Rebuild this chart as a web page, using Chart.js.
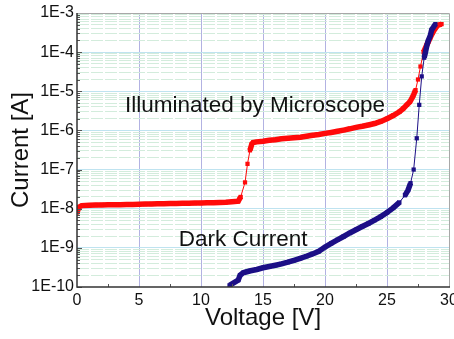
<!DOCTYPE html>
<html>
<head>
<meta charset="utf-8">
<script src="https://cdn.jsdelivr.net/npm/chart.js@4"></script>
<style>
  html, body { margin: 0; padding: 0; background: #fff; }
  #wrap { width: 454px; height: 339px; }
</style>
</head>
<body>
<div id="wrap"><canvas id="iv" width="454" height="339"></canvas></div>
<script>
// I-V curves
let illumV = [0, 0.15, 0.4, 1, 1.5, 2, 2.5, 3, 3.5, 4, 4.5, 5, 5.5, 6, 6.5, 7, 7.5, 8, 8.5, 9, 9.5, 10, 10.5, 11, 11.5, 12, 12.5, 13,
  13.2, 13.55, 13.75, 13.95, 14.1, 14.2, 14.5, 15, 15.5, 16, 16.5, 17, 17.5, 18, 18.5, 19, 19.5, 20, 20.5, 21, 21.5, 22, 22.5, 23, 23.5,
  24, 24.5, 25, 25.5, 26, 26.3, 26.6, 26.85, 27.1, 27.3, 27.5, 27.7, 27.95, 28.2, 28.35, 28.5, 28.7, 28.9, 29.1, 29.4]
let illumI = [8e-9, 1.1e-8, 1.2e-8, 1.23e-8, 1.24e-8, 1.25e-8, 1.26e-8, 1.27e-8, 1.27e-8, 1.28e-8, 1.29e-8, 1.3e-8, 1.31e-8, 1.32e-8, 1.33e-8,
  1.34e-8, 1.35e-8, 1.36e-8, 1.37e-8, 1.38e-8, 1.39e-8, 1.4e-8, 1.42e-8, 1.43e-8, 1.45e-8, 1.46e-8, 1.5e-8, 1.55e-8,
  2.0e-8, 4.7e-8, 1.4e-7, 3.1e-7, 4.5e-7, 4.9e-7, 5.1e-7, 5.3e-7, 5.6e-7, 5.8e-7, 6.1e-7, 6.3e-7, 6.5e-7, 6.7e-7, 7.1e-7, 7.5e-7,
  7.9e-7, 8.4e-7, 8.9e-7, 9.5e-7, 1.02e-6, 1.1e-6, 1.2e-6, 1.28e-6, 1.38e-6, 1.5e-6, 1.7e-6, 2.0e-6, 2.4e-6, 3.0e-6, 3.6e-6, 4.5e-6,
  5.4e-6, 7.5e-6, 1.07e-5, 2.0e-5, 4.3e-5, 1.0e-4, 1.5e-4, 1.9e-4, 2.4e-4, 3.2e-4, 4.1e-4, 4.9e-4, 5.2e-4]

let darkV = [12.3, 13.0, 13.15, 13.4, 13.7, 14, 14.5, 15, 15.5, 16, 16.5, 17, 17.5, 18, 18.5, 19, 19.5, 20, 20.5, 21, 21.5, 22, 22.5,
  23, 23.5, 24, 24.5, 25, 25.5, 26, 26.45, 26.7, 26.9, 27.15, 27.4, 27.6, 27.8, 28.0, 28.1, 28.2, 28.3, 28.5, 28.6, 28.9]
let darkI = [1.1e-10, 1.5e-10, 2.0e-10, 2.3e-10, 2.45e-10, 2.6e-10, 2.8e-10, 3.1e-10, 3.35e-10, 3.6e-10, 3.9e-10, 4.3e-10, 4.8e-10,
  5.4e-10, 6.1e-10, 7.0e-10, 8.2e-10, 1.05e-9, 1.3e-9, 1.6e-9, 1.95e-9, 2.4e-9, 2.9e-9, 3.5e-9, 4.2e-9, 5.1e-9, 6.3e-9, 8.0e-9,
  1.05e-8, 1.45e-8, 2.2e-8, 3.0e-8, 4.5e-8, 1.0e-7, 6.3e-7, 4.5e-6, 2.4e-5, 7.2e-5, 1.0e-4, 1.4e-4, 1.85e-4, 2.7e-4, 3.7e-4, 5.2e-4]

let xTicks = [0, 5, 10, 15, 20, 25, 30]
let decades = [-10, -9, -8, -7, -6, -5, -4, -3]

let notes = [
  { text: 'Illuminated by Microscope', v: 14.35, i: 4.3e-6 },
  { text: 'Dark Current', v: 13.4, i: 1.6e-9 }
]

const FONT = "'Liberation Sans', Arial, sans-serif"

function pts(xs, ys) {
  return xs.map((x, k) => ({ x: x, y: ys[k] }))
}

// thick where the squares crowd together, thin where they are spread out
function segWidth(ctx) {
  return Math.abs(ctx.p1.y - ctx.p0.y) > 7 ? 1 : 5.5
}

function isDecade(v) {
  let e = Math.log10(v)
  return Math.abs(e - Math.round(e)) < 1e-6
}

const frame = {
  id: 'frame',
  afterDatasetsDraw(chart) {
    let c = chart.ctx, a = chart.chartArea
    let xs = chart.scales.x, ys = chart.scales.y
    c.save()
    // inner tick marks
    c.strokeStyle = '#555'
    c.lineWidth = 1
    c.beginPath()
    for (let e = -10; e < -3; e++) {
      for (let m = 1; m <= 9; m++) {
        let y = Math.round(ys.getPixelForValue(m * Math.pow(10, e))) + 0.5
        let len = m === 1 ? 5 : 3
        c.moveTo(a.left, y); c.lineTo(a.left + len, y)
      }
    }
    for (let v = 2.5; v < 30; v += 5) {
      let x = Math.round(xs.getPixelForValue(v)) + 0.5
      c.moveTo(x, a.bottom); c.lineTo(x, a.bottom - 3)
    }
    c.stroke()
    // top / right frame
    c.strokeStyle = '#a8a8a8'
    c.beginPath()
    c.moveTo(a.left, a.top + 0.5); c.lineTo(a.right + 0.5, a.top + 0.5); c.lineTo(a.right + 0.5, a.bottom)
    c.stroke()
    // left / bottom axes
    c.strokeStyle = '#333'
    c.lineWidth = 1.5
    c.beginPath()
    c.moveTo(a.left, a.top); c.lineTo(a.left, a.bottom); c.lineTo(a.right + 1, a.bottom)
    c.stroke()
    // annotations
    c.fillStyle = '#111'
    c.font = '22.5px ' + FONT
    c.textAlign = 'center'
    c.textBaseline = 'middle'
    notes.forEach(n => c.fillText(n.text, xs.getPixelForValue(n.v), ys.getPixelForValue(n.i)))
    c.restore()
  }
}

new Chart(document.getElementById('iv').getContext('2d'), {
  type: 'line',
  data: {
    datasets: [
      {
        label: 'Dark Current',
        data: pts(darkV, darkI),
        borderColor: '#1c0f86',
        backgroundColor: '#1c0f86',
        pointStyle: 'rect',
        pointRadius: 3,
        pointBorderWidth: 0,
        segment: { borderWidth: segWidth },
        order: 0
      },
      {
        label: 'Illuminated by Microscope',
        data: pts(illumV, illumI),
        borderColor: '#ff0a0a',
        backgroundColor: '#ff0a0a',
        pointStyle: 'rect',
        pointRadius: 3,
        pointBorderWidth: 0,
        segment: { borderWidth: segWidth },
        order: 1
      }
    ]
  },
  options: {
    responsive: false,
    animation: false,
    devicePixelRatio: 1,
    layout: { padding: { top: 13, right: 5, left: 0, bottom: 0 } },
    plugins: { legend: { display: false }, tooltip: { enabled: false } },
    scales: {
      x: {
        type: 'linear',
        min: 0,
        max: 30,
        afterBuildTicks: s => { s.ticks = xTicks.map(v => ({ value: v })) },
        afterFit: s => { s.height = 52; s.paddingLeft = 0; s.paddingRight = 0 },
        border: { display: false },
        grid: {
          drawTicks: false,
          lineWidth: 1,
          color: c => (c.tick && (c.tick.value === 0 || c.tick.value === 30)) ? 'rgba(0,0,0,0)' : '#b2b2e2'
        },
        ticks: {
          padding: 4,
          color: '#111',
          font: { family: FONT, size: 16 },
          maxRotation: 0
        },
        title: {
          display: true,
          text: 'Voltage [V]',
          color: '#111',
          font: { family: FONT, size: 24 },
          padding: { top: 0, bottom: 6 }
        }
      },
      y: {
        type: 'logarithmic',
        min: 1e-10,
        max: 1e-3,
        afterBuildTicks: s => {
          let t = []
          for (let e = -10; e < -3; e++) {
            for (let m = 1; m <= 9; m++) t.push({ value: m * Math.pow(10, e) })
          }
          t.push({ value: 1e-3 })
          s.ticks = t
        },
        afterFit: s => { s.width = 77; s.paddingTop = 0; s.paddingBottom = 0 },
        border: {
          display: false,
          dash: c => (c.tick && !isDecade(c.tick.value)) ? [12, 2] : []
        },
        grid: {
          drawTicks: false,
          lineWidth: 1,
          color: c => {
            if (!c.tick) return 'rgba(0,0,0,0)'
            if (c.tick.value <= 1e-10 * 1.0001 || c.tick.value >= 1e-3 * 0.9999) return 'rgba(0,0,0,0)'
            return isDecade(c.tick.value) ? '#bfe3f0' : '#d3ecdc'
          }
        },
        ticks: {
          padding: 3,
          color: '#111',
          autoSkip: false,
          font: { family: FONT, size: 16 },
          callback: v => {
            if (!isDecade(v)) return ''
            let e = Math.round(Math.log10(v))
            return decades.includes(e) ? '1E' + e : ''
          }
        },
        title: {
          display: true,
          text: 'Current [A]',
          color: '#111',
          font: { family: FONT, size: 24 },
          padding: { top: 7, bottom: 0 }
        }
      }
    }
  },
  plugins: [frame]
})
</script>
</body>
</html>
